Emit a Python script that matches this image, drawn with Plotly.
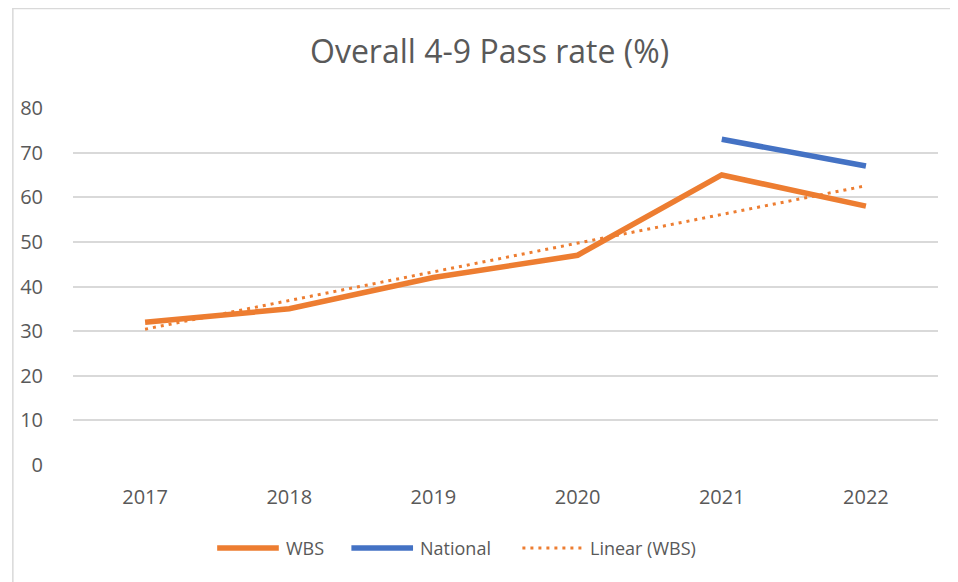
import numpy as np
import plotly.graph_objects as go

years = ["2017", "2018", "2019", "2020", "2021", "2022"]
wbs = [32, 35, 42, 47, 65, 58]
national = [None, None, None, None, 73, 67]
y_ticks = [0, 10, 20, 30, 40, 50, 60, 70, 80]

ORANGE = "#ED7D31"
BLUE = "#4472C4"
TEXT = "#595959"
GRID = "#D9D9D9"
FONT = "Open Sans"

# Linear trendline (least squares) of WBS, as Excel computes it
xi = np.arange(1, len(wbs) + 1)
slope, intercept = np.polyfit(xi, wbs, 1)
trend = list(slope * xi + intercept)

fig = go.Figure()
fig.add_trace(go.Scatter(x=years, y=wbs, mode="lines", name="WBS",
                         line=dict(color=ORANGE, width=5.5)))
fig.add_trace(go.Scatter(x=years, y=national, mode="lines", name="National",
                         line=dict(color=BLUE, width=5.5)))
fig.add_trace(go.Scatter(x=years, y=trend, mode="lines", name="Linear (WBS)",
                         line=dict(color=ORANGE, width=3, dash="3px,5px")))

# page body has an 8px margin; compensate so plot lands at target screen pixels
OFF = 8
W, H = 958, 582
# target screen positions of plot area
SX0, SX1, SY0, SY1 = 68, 938, 108, 465
L, R = SX0 - OFF, W - (SX1 - OFF)
T, B = SY0 - OFF, H - (SY1 - OFF)
pw, ph = SX1 - SX0, SY1 - SY0

def px_x(x):
    return (x - SX0) / pw

def px_y(y):
    return (SY1 - y) / ph

shapes = [
    dict(type="line", xref="paper", yref="paper", x0=px_x(7.5), x1=px_x(7.5),
         y0=px_y(8), y1=px_y(600), line=dict(color=GRID, width=1.5)),
    dict(type="line", xref="paper", yref="paper", x0=px_x(7), x1=px_x(970),
         y0=px_y(8.5), y1=px_y(8.5), line=dict(color=GRID, width=1.5)),
]
annotations = []

legend_items = [
    ("WBS", ORANGE, "solid", 5.5, 213, 280),
    ("National", BLUE, "solid", 5.5, 348, 415),
    ("Linear (WBS)", ORANGE, "3px,5px", 3, 520, 586),
]
ly = 548
for name, col, dash, wd, x0, tx in legend_items:
    shapes.append(dict(type="line", xref="paper", yref="paper",
                       x0=px_x(x0), x1=px_x(x0 + 62), y0=px_y(ly), y1=px_y(ly),
                       line=dict(color=col, width=wd, dash=dash)))
    annotations.append(dict(text=name, xref="paper", yref="paper",
                            x=px_x(tx), y=px_y(ly), xanchor="left", yanchor="middle",
                            showarrow=False, font=dict(family=FONT, size=18, color=TEXT)))

annotations.append(dict(text="Overall 4-9 Pass rate (%)", xref="paper", yref="paper",
                        x=px_x(487), y=px_y(51), xanchor="center", yanchor="middle",
                        showarrow=False, font=dict(family=FONT, size=32, color=TEXT)))

fig.update_layout(
    width=W, height=H,
    margin=dict(l=L, r=R, t=T, b=B),
    paper_bgcolor="white", plot_bgcolor="white",
    showlegend=False,
    xaxis=dict(type="category", range=[-0.5, 5.5], showgrid=False, zeroline=False,
               showline=False, ticks="", ticklabelstandoff=18,
               tickfont=dict(family=FONT, size=20, color=TEXT)),
    yaxis=dict(range=[0, 80], tickvals=y_ticks, showgrid=True, gridcolor=GRID,
               gridwidth=1.5, zeroline=False, showline=False, ticks="",
               ticklabelstandoff=29,
               tickfont=dict(family=FONT, size=20, color=TEXT)),
    shapes=shapes,
    annotations=annotations,
)

fig.write_html("out.html")
